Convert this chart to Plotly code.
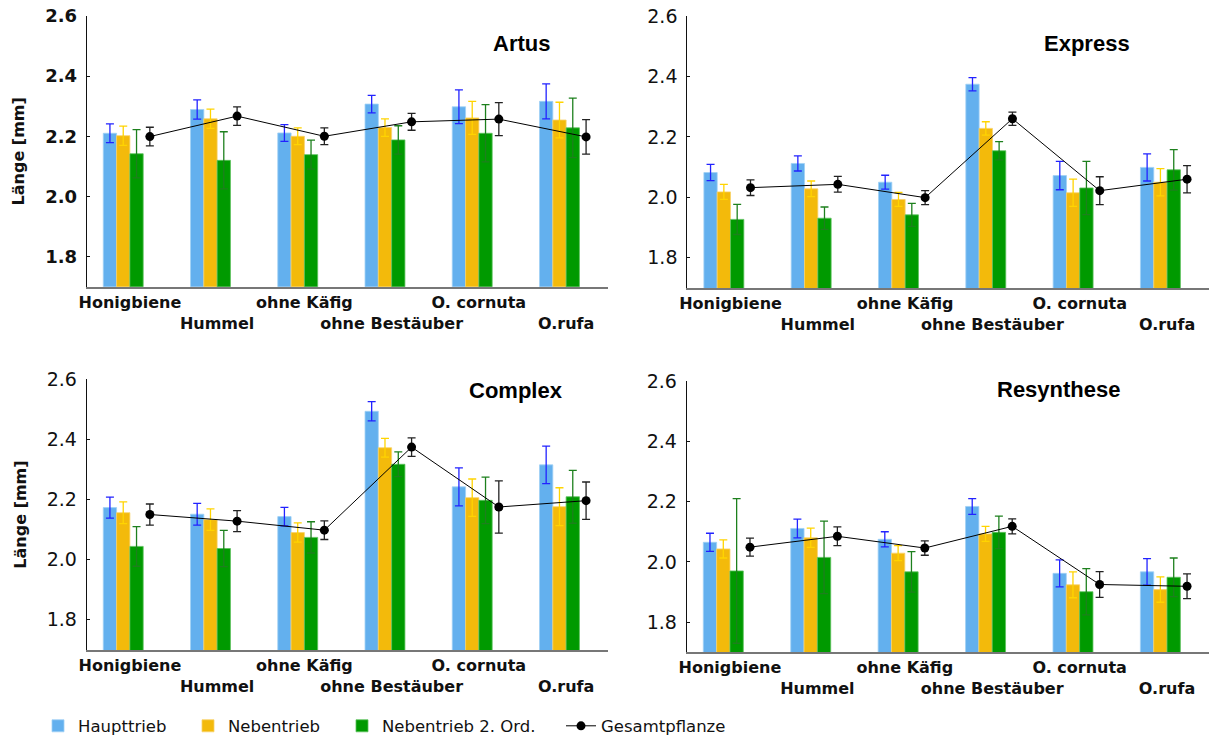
import numpy as np
import plotly.graph_objects as go

categories = ["Honigbiene", "Hummel", "ohne Käfig", "ohne Bestäuber", "O. cornuta", "O.rufa"]
tick_rows = [0, 1, 0, 1, 0, 1]
series_names = ["Haupttrieb", "Nebentrieb", "Nebentrieb 2. Ord.", "Gesamtpflanze"]
y_ticks = [1.8, 2.0, 2.2, 2.4, 2.6]

# Artus
artus_haupt = [2.210, 2.289, 2.211, 2.307, 2.298, 2.316]
artus_haupt_err = [0.031, 0.032, 0.028, 0.029, 0.056, 0.058]
artus_neben = [2.202, 2.258, 2.200, 2.229, 2.261, 2.254]
artus_neben_err = [0.032, 0.032, 0.028, 0.029, 0.055, 0.059]
artus_neben2 = [2.142, 2.120, 2.139, 2.188, 2.210, 2.228]
artus_neben2_err = [0.080, 0.095, 0.048, 0.047, 0.095, 0.099]
artus_gesamt = [2.199, 2.267, 2.200, 2.248, 2.257, 2.198]
artus_gesamt_err = [0.031, 0.031, 0.028, 0.028, 0.055, 0.057]

# Express
express_haupt = [2.082, 2.112, 2.050, 2.374, 2.072, 2.099]
express_haupt_err = [0.027, 0.025, 0.023, 0.022, 0.047, 0.045]
express_neben = [2.018, 2.028, 1.993, 2.228, 2.015, 2.050]
express_neben_err = [0.025, 0.026, 0.023, 0.022, 0.045, 0.045]
express_neben2 = [1.927, 1.931, 1.942, 2.154, 2.031, 2.091]
express_neben2_err = [0.050, 0.037, 0.038, 0.030, 0.088, 0.067]
express_gesamt = [2.032, 2.043, 1.999, 2.260, 2.022, 2.060]
express_gesamt_err = [0.026, 0.026, 0.023, 0.022, 0.046, 0.045]

# Complex
complex_haupt = [2.173, 2.151, 2.143, 2.493, 2.242, 2.315]
complex_haupt_err = [0.035, 0.036, 0.031, 0.032, 0.063, 0.062]
complex_neben = [2.156, 2.133, 2.090, 2.372, 2.206, 2.176]
complex_neben_err = [0.036, 0.036, 0.032, 0.031, 0.062, 0.063]
complex_neben2 = [2.044, 2.037, 2.074, 2.317, 2.197, 2.209]
complex_neben2_err = [0.066, 0.060, 0.052, 0.041, 0.077, 0.088]
complex_gesamt = [2.150, 2.128, 2.098, 2.374, 2.175, 2.196]
complex_gesamt_err = [0.035, 0.035, 0.031, 0.031, 0.087, 0.062]

# Resynthese
resyn_haupt = [2.065, 2.111, 2.075, 2.184, 1.962, 1.967]
resyn_haupt_err = [0.030, 0.031, 0.025, 0.026, 0.045, 0.044]
resyn_neben = [2.043, 2.080, 2.029, 2.093, 1.924, 1.908]
resyn_neben_err = [0.030, 0.032, 0.025, 0.025, 0.043, 0.042]
resyn_neben2 = [1.970, 2.015, 1.967, 2.098, 1.901, 1.949]
resyn_neben2_err = [0.240, 0.120, 0.067, 0.054, 0.077, 0.064]
resyn_gesamt = [2.049, 2.085, 2.046, 2.118, 1.925, 1.919]
resyn_gesamt_err = [0.030, 0.031, 0.024, 0.025, 0.043, 0.041]

panel_titles = ["Artus", "Express", "Complex", "Resynthese"]

panels = [
    (artus_haupt, artus_haupt_err, artus_neben, artus_neben_err, artus_neben2, artus_neben2_err, artus_gesamt, artus_gesamt_err),
    (express_haupt, express_haupt_err, express_neben, express_neben_err, express_neben2, express_neben2_err, express_gesamt, express_gesamt_err),
    (complex_haupt, complex_haupt_err, complex_neben, complex_neben_err, complex_neben2, complex_neben2_err, complex_gesamt, complex_gesamt_err),
    (resyn_haupt, resyn_haupt_err, resyn_neben, resyn_neben_err, resyn_neben2, resyn_neben2_err, resyn_gesamt, resyn_gesamt_err),
]

bar_colors = ["#63b0ee", "#f3ba0b", "#009a00"]
bar_edges = ["#9fd0f5", "#f8d26a", "#5cc25c"]
err_colors = ["#2222ff", "#ffd400", "#1d801d"]
gesamt_color = "#000000"

slot = 0.1525
offsets = np.array([-1.5, -0.5, 0.5, 1.5]) * slot
idx = np.arange(len(categories))
legend_ids = ["legend", "legend2", "legend3", "legend4"]

fig = go.Figure()

for p, data in enumerate(panels):
    xa = "x" if p == 0 else f"x{p+1}"
    ya = "y" if p == 0 else f"y{p+1}"
    vals = [data[0], data[2], data[4]]
    errs = [data[1], data[3], data[5]]
    for s in range(3):
        fig.add_trace(go.Bar(
            x=idx + offsets[s], y=vals[s], width=slot,
            marker=dict(color=bar_colors[s], line=dict(width=0.8, color=bar_edges[s])),
            error_y=dict(type="data", array=errs[s], color=err_colors[s], thickness=1.3, width=4),
            name=series_names[s], legendgroup=series_names[s], showlegend=(p == 0),
            legend=legend_ids[s],
            xaxis=xa, yaxis=ya,
        ))
    fig.add_trace(go.Scatter(
        x=idx + offsets[3], y=data[6], mode="lines+markers",
        line=dict(color=gesamt_color, width=1),
        marker=dict(color=gesamt_color, size=9),
        error_y=dict(type="data", array=data[7], color="#222222", thickness=1.3, width=4),
        name=series_names[3], legendgroup=series_names[3], showlegend=(p == 0),
        legend=legend_ids[3],
        xaxis=xa, yaxis=ya,
    ))

W, H = 1209, 744
xdoms = [[86.7 / W, 608 / W], [687.3 / W, 1.0], [86.7 / W, 608 / W], [686.7 / W, 1.0]]
ydoms = [[1 - 288.7 / H, 1 - 16 / H], [1 - 290 / H, 1 - 16 / H],
         [1 - 654.3 / H, 1 - 381.7 / H], [1 - 656.7 / H, 1 - 383.7 / H]]

ticktext = [("<br>" + c) if r == 1 else c for c, r in zip(categories, tick_rows)]

layout = dict(
    template="none",
    width=W, height=H,
    margin=dict(l=0, r=0, t=0, b=0, pad=0),
    paper_bgcolor="white", plot_bgcolor="white",
    barmode="overlay",
    showlegend=True,
)

legend_text_x = [79, 229, 383, 602]
for lid, tx in zip(legend_ids, legend_text_x):
    layout[lid] = dict(orientation="h", x=(tx - 41) / W, y=1 - 731 / H,
                       xanchor="left", yanchor="middle",
                       font=dict(family="DejaVu Sans", size=16.5, color="#111"),
                       bgcolor="rgba(0,0,0,0)", itemwidth=30)

for p in range(4):
    xk = "xaxis" if p == 0 else f"xaxis{p+1}"
    yk = "yaxis" if p == 0 else f"yaxis{p+1}"
    xa = "x" if p == 0 else f"x{p+1}"
    ya = "y" if p == 0 else f"y{p+1}"
    layout[xk] = dict(
        domain=xdoms[p], anchor=ya, range=[-0.495, 5.48], automargin=False,
        tickmode="array", tickvals=idx, ticktext=ticktext, tickangle=0,
        tickfont=dict(family="DejaVu Sans", size=16, color="#111", weight="bold"),
        showline=True, linecolor="#777777", linewidth=2, ticks="",
        showgrid=False, zeroline=False,
    )
    bold = (p == 0)
    layout[yk] = dict(
        domain=ydoms[p], anchor=xa, range=[1.7, 2.6], automargin=False,
        tickmode="array", tickvals=y_ticks, ticktext=[f"{v:.1f}" for v in y_ticks],
        tickfont=dict(family="DejaVu Sans", size=18 if bold else 19, color="#111",
                      weight="bold" if bold else "normal"),
        showline=True, linecolor="#111", linewidth=1,
        ticks="inside", ticklen=3, tickcolor="#111",
        ticklabelstandoff=5,
        showgrid=False, zeroline=False,
    )
    if p in (0, 2):
        layout[yk]["title"] = dict(text="Länge [mm]", standoff=16,
                                   font=dict(family="DejaVu Sans", size=16, color="#111", weight="bold"))

fig.update_layout(**layout)

title_pos = [(521.7, 43.3), (1087.3, 43.3), (515.8, 393.3), (1059.0, 391.7)]
for t, (px, py) in zip(panel_titles, title_pos):
    fig.add_annotation(text=t, x=px / W, y=1 - py / H, xref="paper", yref="paper",
                       showarrow=False, xanchor="center", yanchor="middle",
                       font=dict(family="Liberation Sans", size=22, color="#000", weight="bold"))

fig.write_html("out.html", config={"displayModeBar": False},
               post_script="document.body.style.margin='0px';document.body.style.overflow='hidden';")
